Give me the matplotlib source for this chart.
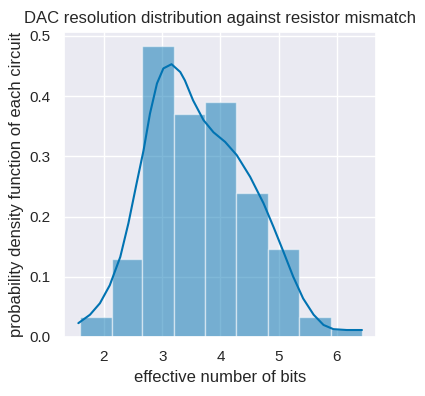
import matplotlib
matplotlib.use("Agg")
import matplotlib.pyplot as plt
import seaborn as sns

# histogram (density)
bin_edges = [1.59, 2.13, 2.66, 3.20, 3.74, 4.27, 4.81, 5.35, 5.89, 6.43]
densities = [0.034, 0.129, 0.483, 0.370, 0.390, 0.239, 0.146, 0.034, 0.014]

# kde curve
kde_x = [1.56, 1.76, 1.93, 2.10, 2.28, 2.42, 2.56, 2.68, 2.79, 2.91, 3.02, 3.16,
         3.31, 3.39, 3.53, 3.71, 3.88, 4.08, 4.28, 4.51, 4.74, 4.91, 5.08, 5.25,
         5.42, 5.60, 5.77, 5.94, 6.17, 6.43]
kde_y = [0.023, 0.037, 0.056, 0.086, 0.133, 0.189, 0.255, 0.310, 0.371, 0.421, 0.446, 0.453,
         0.440, 0.426, 0.393, 0.360, 0.340, 0.324, 0.302, 0.266, 0.222, 0.183, 0.142, 0.100,
         0.064, 0.037, 0.020, 0.013, 0.0116, 0.0116]

sns.set_theme(style="darkgrid", palette="colorblind")
plt.rcParams["font.family"] = ["Liberation Sans", "DejaVu Sans"]
color = sns.color_palette("colorblind")[0]

fig, ax = plt.subplots(figsize=(4.25, 3.96), dpi=100)
fig.subplots_adjust(left=0.151, right=0.885, bottom=0.149, top=0.92)

widths = [b - a for a, b in zip(bin_edges[:-1], bin_edges[1:])]
ax.bar(bin_edges[:-1], densities, width=widths, align="edge",
       color=color, alpha=0.5, edgecolor="white", linewidth=1)
ax.plot(kde_x, kde_y, color=color, linewidth=1.5)

ax.set_ylim(0, 0.507)
ax.set_title("DAC resolution distribution against resistor mismatch")
ax.set_xlabel("effective number of bits")
ax.set_ylabel("probability density function of each circuit")

fig.savefig("out.png", dpi=100)
